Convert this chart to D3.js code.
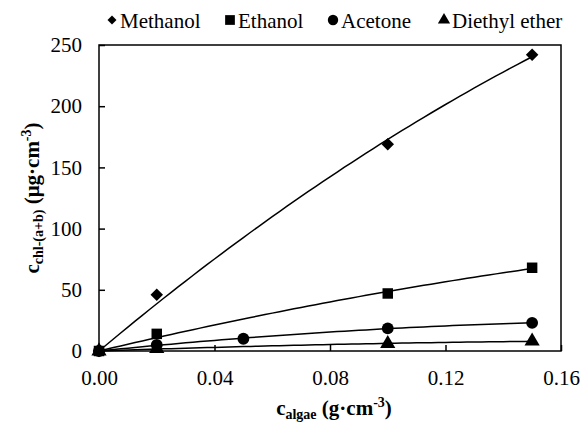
<!DOCTYPE html>
<html>
<head>
<meta charset="utf-8">
<script src="https://cdn.jsdelivr.net/npm/d3@7"></script>
<style>
body { margin: 0; background: #fff; }
</style>
</head>
<body>
<div id="chart"></div>
<script>
// values
var methanolX = [0, 0.02, 0.10, 0.15];
var methanolY = [0, 46, 169, 242];
var ethanolX = [0, 0.02, 0.10, 0.15];
var ethanolY = [0, 14, 47, 68];
var acetoneX = [0, 0.02, 0.05, 0.10, 0.15];
var acetoneY = [0, 5, 10, 18.5, 23];
var etherX = [0, 0.02, 0.10, 0.15];
var etherY = [0, 2, 6, 8];
var seriesNames = ["Methanol", "Ethanol", "Acetone", "Diethyl ether"];
var xTicks = [0, 0.04, 0.08, 0.12, 0.16];
var yTicks = [0, 50, 100, 150, 200, 250];

var FONT = "Liberation Serif";
var width = 581, height = 424;
var margin = {top: 45, right: 20, bottom: 73, left: 99};
var w = width - margin.left - margin.right;
var h = height - margin.top - margin.bottom;

var svg = d3.select("#chart").append("svg").attr("width", width).attr("height", height);
var g = svg.append("g").attr("transform", "translate(" + margin.left + "," + margin.top + ")");

var x = d3.scaleLinear().domain([0, 0.16]).range([0, w]);
var y = d3.scaleLinear().domain([0, 250]).range([h, 0]);

var symbols = [
	d3.symbol().type(d3.symbolSquare).size(78),   // rotated -> diamond
	d3.symbol().type(d3.symbolSquare).size(110),
	d3.symbol().type(d3.symbolCircle).size(110),
	d3.symbol().type(d3.symbolTriangle).size(100)
];
var rotations = [45, 0, 0, 0];

var series = [
	{xs: methanolX, ys: methanolY},
	{xs: ethanolX, ys: ethanolY},
	{xs: acetoneX, ys: acetoneY},
	{xs: etherX, ys: etherY}
];

// quadratic least squares trend line through origin, y = a x + b x^2
function fitQuad(xs, ys) {
	var s2 = 0, s3 = 0, s4 = 0, sxy = 0, sx2y = 0;
	for (var i = 0; i < xs.length; ++i) {
		var t = xs[i];
		s2 += t * t; s3 += t * t * t; s4 += t * t * t * t;
		sxy += t * ys[i]; sx2y += t * t * ys[i];
	}
	var det = s2 * s4 - s3 * s3;
	var a = (sxy * s4 - sx2y * s3) / det;
	var b = (s2 * sx2y - s3 * sxy) / det;
	return function(t) { return a * t + b * t * t; };
}

var line = d3.line().x(function(d) { return x(d[0]); }).y(function(d) { return y(d[1]); });

series.forEach(function(s, k) {
	var f = fitQuad(s.xs, s.ys);
	var xmax = d3.max(s.xs);
	var pts = d3.range(0, 61).map(function(i) { var t = xmax * i / 60; return [t, f(t)]; });
	g.append("path").datum(pts).attr("d", line)
		.attr("fill", "none").attr("stroke", "#000").attr("stroke-width", 1.5);
});

series.forEach(function(s, k) {
	g.selectAll(".m" + k).data(s.xs).enter().append("path")
		.attr("d", symbols[k])
		.attr("transform", function(d, i) {
			return "translate(" + x(d) + "," + y(s.ys[i]) + ") rotate(" + rotations[k] + ")";
		})
		.attr("fill", "#000");
});

// frame
g.append("rect").attr("width", w).attr("height", h)
	.attr("fill", "none").attr("stroke", "#000").attr("stroke-width", 1.5);

var xAxis = g.append("g").attr("transform", "translate(0," + h + ")")
	.call(d3.axisBottom(x).tickValues(xTicks).tickFormat(d3.format(".2f")).tickSizeInner(-6).tickSizeOuter(0).tickPadding(19));
var yAxis = g.append("g")
	.call(d3.axisLeft(y).tickValues(yTicks).tickSizeInner(-6).tickSizeOuter(0).tickPadding(17));
[xAxis, yAxis].forEach(function(a) {
	a.select(".domain").remove();
	a.selectAll("line").attr("stroke", "#000").attr("stroke-width", 1.5);
	a.selectAll("text").style("font-family", FONT).style("font-size", "21px").attr("fill", "#000");
});

// axis titles
var xt = svg.append("text").attr("x", margin.left + w / 2 + 4).attr("y", 415)
	.attr("text-anchor", "middle").style("font-family", FONT).style("font-weight", "bold").style("font-size", "21px");
xt.append("tspan").text("c");
xt.append("tspan").style("font-size", "14px").attr("dy", 4).text("algae");
xt.append("tspan").attr("dy", -4).text(" (g·cm");
xt.append("tspan").style("font-size", "14px").attr("dy", -8).text("-3");
xt.append("tspan").attr("dy", 8).text(")");

var yt = svg.append("text").attr("transform", "translate(39," + (margin.top + h / 2) + ") rotate(-90)")
	.attr("text-anchor", "middle").style("font-family", FONT).style("font-weight", "bold").style("font-size", "21px");
yt.append("tspan").text("c");
yt.append("tspan").style("font-size", "14px").attr("dy", 4).text("chl-(a+b)");
yt.append("tspan").attr("dy", -4).text(" (μg·cm");
yt.append("tspan").style("font-size", "14px").attr("dy", -8).text("-3");
yt.append("tspan").attr("dy", 8).text(")");

// legend
var legX = [112, 230, 333, 444];
var legSym = [
	d3.symbol().type(d3.symbolSquare).size(40),
	d3.symbol().type(d3.symbolSquare).size(95),
	d3.symbol().type(d3.symbolCircle).size(85),
	d3.symbol().type(d3.symbolTriangle).size(65)
];
var leg = svg.append("g");
seriesNames.forEach(function(name, k) {
	leg.append("path").attr("d", legSym[k])
		.attr("transform", "translate(" + legX[k] + ",20) rotate(" + rotations[k] + ")")
		.attr("fill", "#000");
	leg.append("text").attr("x", legX[k] + 8).attr("y", 28)
		.style("font-family", FONT).style("font-size", "21px").text(name);
});
</script>
</body>
</html>
